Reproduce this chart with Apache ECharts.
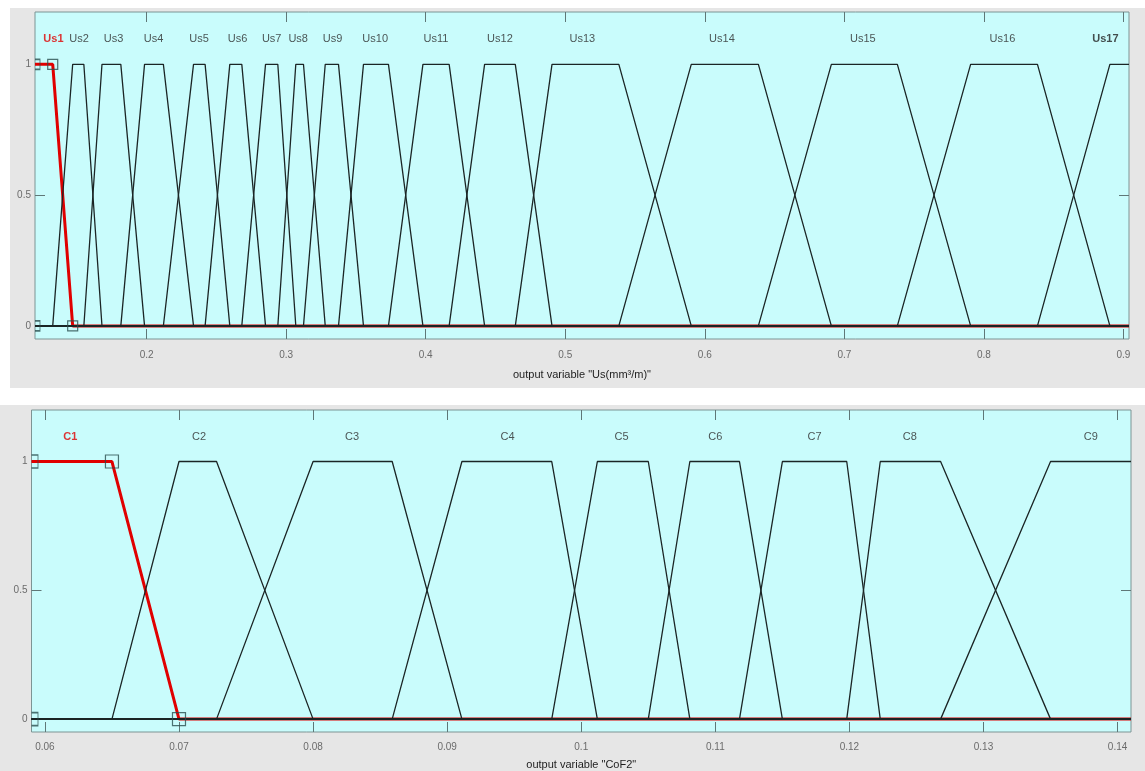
<!DOCTYPE html>
<html>
<head>
<meta charset="utf-8">
<script src="https://cdn.jsdelivr.net/npm/echarts@6/dist/echarts.min.js"></script>
<style>
html,body{margin:0;padding:0;background:#ffffff;}
#chart{width:1145px;height:771px;}
</style>
</head>
<body>
<div id="chart"></div>
<script>
// ---------- data ----------
const usNames = ['Us1','Us2','Us3','Us4','Us5','Us6','Us7','Us8','Us9','Us10','Us11','Us12','Us13','Us14','Us15','Us16','Us17'];
// trapezoid parameters [a, b, c, d]
const usParams = [
  [0.12,   0.12,   0.1327, 0.147 ],
  [0.1327, 0.147,  0.155,  0.168 ],
  [0.155,  0.168,  0.1815, 0.1985],
  [0.1815, 0.1985, 0.212,  0.2336],
  [0.212,  0.2336, 0.2419, 0.2596],
  [0.2419, 0.2596, 0.2682, 0.2852],
  [0.2682, 0.2852, 0.294,  0.3069],
  [0.294,  0.3069, 0.3124, 0.328 ],
  [0.3124, 0.328,  0.3375, 0.3554],
  [0.3375, 0.3554, 0.3733, 0.398 ],
  [0.3733, 0.398,  0.4168, 0.4422],
  [0.4168, 0.4422, 0.4642, 0.4905],
  [0.4642, 0.4905, 0.5384, 0.5903],
  [0.5384, 0.5903, 0.6384, 0.6907],
  [0.6384, 0.6907, 0.738,  0.7905],
  [0.738,  0.7905, 0.8384, 0.8903],
  [0.8384, 0.8903, 0.904,  0.904 ]
];
const usLabelX = [0.1332,0.1516,0.1763,0.2050,0.2376,0.2652,0.2896,0.3086,0.3333,0.3638,0.4074,0.4532,0.5122,0.6123,0.7133,0.8133,0.8871];
const usRange = [0.12, 0.904];
const usTicks = [0.2,0.3,0.4,0.5,0.6,0.7,0.8,0.9];
const usTickLabels = ['0.2','0.3','0.4','0.5','0.6','0.7','0.8','0.9'];
const usTitle = 'output variable "Us(mm³/m)"';

const cNames = ['C1','C2','C3','C4','C5','C6','C7','C8','C9'];
const cParams = [
  [0.059,  0.059,  0.065,  0.070 ],
  [0.065,  0.070,  0.0728, 0.080 ],
  [0.0728, 0.080,  0.0859, 0.0911],
  [0.0859, 0.0911, 0.0978, 0.1012],
  [0.0978, 0.1012, 0.1050, 0.1081],
  [0.1050, 0.1081, 0.1118, 0.1150],
  [0.1118, 0.1150, 0.1198, 0.1223],
  [0.1198, 0.1223, 0.1268, 0.1350],
  [0.1268, 0.1350, 0.141,  0.141 ]
];
const cLabelX = [0.0619,0.0715,0.0829,0.0945,0.1030,0.1100,0.1174,0.1245,0.1380];
const cRange = [0.059, 0.141];
const cTicks = [0.06,0.07,0.08,0.09,0.1,0.11,0.12,0.13,0.14];
const cTickLabels = ['0.06','0.07','0.08','0.09','0.1','0.11','0.12','0.13','0.14'];
const cTitle = 'output variable "CoF2"';

const yTicks = [0, 0.5, 1];
const yTickLabels = ['0', '0.5', '1'];
const selectedIndex = 0;   // the highlighted (red) membership function
const labelLevel = 1.095;

// ---------- styles ----------
const FONT = 'Liberation Sans, Arial, Helvetica, sans-serif';
const BLACK = '#1b2525';
const RED = '#e00000';
const BORDER = '#7d9494';
const TICK = '#5f7777';
const TICKTXT = '#6b6b6b';
const PLOT_BG = '#c9fcfc';
const PANEL = '#e6e6e6';

function mfPoints(p, range) {
  const [a, b, c, d] = p;
  const pts = [];
  if (a > range[0]) pts.push([range[0], 0]);
  if (a < b) pts.push([a, 0]);
  pts.push([b, 1]);
  pts.push([c, 1]);
  if (c < d) pts.push([d, 0]);
  if (d < range[1]) pts.push([range[1], 0]);
  return pts;
}

function buildSeries(params, names, labelX, range, axisIdx, symSize, boldLast) {
  const out = [];
  const order = [selectedIndex].concat(params.map((_, i) => i).filter(i => i !== selectedIndex));
  order.forEach(i => {
    const sel = i === selectedIndex;
    out.push({
      type: 'line',
      xAxisIndex: axisIdx, yAxisIndex: axisIdx,
      data: mfPoints(params[i], range),
      showSymbol: false, symbol: 'none',
      silent: true, animation: false,
      lineStyle: { color: sel ? RED : BLACK, width: sel ? 3 : 1.3 },
      z: sel ? 2 : 3
    });
  });
  const p = params[selectedIndex];
  const handles = [[p[0], 0], [p[1], 1], [p[2], 1], [p[3], 0]];
  const half = 'path://M0,0L5,0L5,10L0,10';
  out.push({
    type: 'scatter',
    xAxisIndex: axisIdx, yAxisIndex: axisIdx,
    clip: false, silent: true, animation: false, z: 5,
    data: handles.map(h => {
      const atEdge = Math.abs(h[0] - range[0]) < 1e-9;
      return atEdge ? {
        value: h, symbol: half, symbolSize: [symSize / 2, symSize], symbolOffset: [symSize / 4, 0], symbolKeepAspect: false
      } : { value: h, symbol: 'rect', symbolSize: symSize };
    }),
    itemStyle: { color: 'rgba(0,0,0,0)', borderColor: '#2b4d4d', borderWidth: 1.2 }
  });
  out.push({
    type: 'scatter',
    xAxisIndex: axisIdx, yAxisIndex: axisIdx,
    clip: false, silent: true, animation: false, z: 6,
    symbolSize: 1,
    itemStyle: { color: 'rgba(0,0,0,0)' },
    data: names.map((n, i) => ({
      name: n, value: [labelX[i], labelLevel],
      label: i === selectedIndex
        ? { color: RED, fontWeight: 'bold' }
        : (boldLast && i === names.length - 1 ? { fontWeight: 'bold', color: '#222' } : {})
    })),
    label: {
      show: true, position: 'inside', formatter: '{b}',
      color: '#2a2a2a', fontSize: 11, fontFamily: FONT
    }
  });
  return out;
}

function xAxes(gridIndex, range, ticks, tickLabels, title, nameGap, labelMargin) {
  const fmt = v => {
    const k = ticks.findIndex(t => Math.abs(t - v) < 1e-9);
    return k >= 0 ? tickLabels[k] : '';
  };
  return [
    {
      type: 'value', gridIndex, position: 'bottom', min: range[0], max: range[1],
      axisLine: { show: false, onZero: false },
      axisTick: { show: true, inside: true, length: 10, customValues: ticks, lineStyle: { color: TICK, width: 1 } },
      axisLabel: { show: true, customValues: ticks, formatter: fmt, color: TICKTXT, fontSize: 10, fontFamily: FONT, margin: labelMargin },
      splitLine: { show: false },
      name: title, nameLocation: 'middle', nameGap,
      nameTextStyle: { color: '#1e1e1e', fontSize: 11, fontFamily: FONT }
    },
    {
      type: 'value', gridIndex, position: 'top', min: range[0], max: range[1],
      axisLine: { show: false, onZero: false },
      axisTick: { show: true, inside: true, length: 10, customValues: ticks, lineStyle: { color: TICK, width: 1 } },
      axisLabel: { show: false },
      splitLine: { show: false }
    }
  ];
}

function yAxes(gridIndex) {
  const fmt = v => {
    const k = yTicks.findIndex(t => Math.abs(t - v) < 1e-9);
    return k >= 0 ? yTickLabels[k] : '';
  };
  return [
    {
      type: 'value', gridIndex, position: 'left', min: -0.05, max: 1.2,
      axisLine: { show: false, onZero: false },
      axisTick: { show: true, inside: true, length: 10, customValues: yTicks, lineStyle: { color: TICK, width: 1 } },
      axisLabel: { show: true, customValues: yTicks, formatter: fmt, color: TICKTXT, fontSize: 10, fontFamily: FONT, margin: 4 },
      splitLine: { show: false }
    },
    {
      type: 'value', gridIndex, position: 'right', min: -0.05, max: 1.2,
      axisLine: { show: false, onZero: false },
      axisTick: { show: true, inside: true, length: 10, customValues: yTicks, lineStyle: { color: TICK, width: 1 } },
      axisLabel: { show: false },
      splitLine: { show: false }
    }
  ];
}

const chart = echarts.init(document.getElementById('chart'), null, { renderer: 'canvas' });

const xa = xAxes(0, usRange, usTicks, usTickLabels, usTitle, 30, 11)
  .concat(xAxes(1, cRange, cTicks, cTickLabels, cTitle, 27, 10));
const ya = yAxes(0).concat(yAxes(1));

const topSeries = buildSeries(usParams, usNames, usLabelX, usRange, 0, 10, true);
const botSeries = buildSeries(cParams, cNames, cLabelX, cRange, 2, 13, false);

chart.setOption({
  animation: false,
  backgroundColor: 'transparent',
  graphic: [
    { type: 'rect', z: -10, silent: true, shape: { x: 10, y: 8, width: 1135, height: 380 }, style: { fill: PANEL } },
    { type: 'rect', z: -10, silent: true, shape: { x: 0, y: 405, width: 1145, height: 366 }, style: { fill: PANEL } }
  ],
  grid: [
    { left: 35, top: 12, width: 1094, height: 327, show: true, backgroundColor: PLOT_BG, borderColor: BORDER, borderWidth: 1, containLabel: false },
    { left: 31.5, top: 410, width: 1099.5, height: 322, show: true, backgroundColor: PLOT_BG, borderColor: BORDER, borderWidth: 1, containLabel: false }
  ],
  xAxis: xa,
  yAxis: ya,
  series: topSeries.concat(botSeries)
});
</script>
</body>
</html>
